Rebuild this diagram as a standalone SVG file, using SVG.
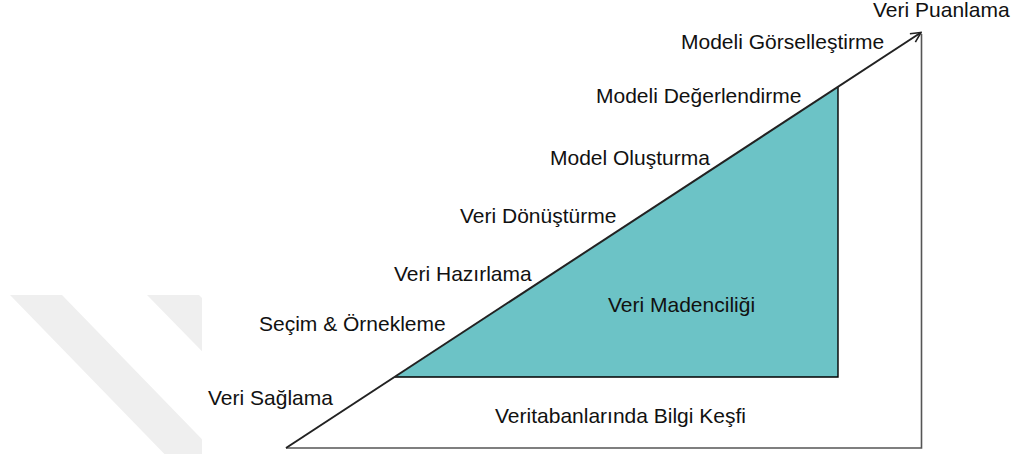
<svg xmlns="http://www.w3.org/2000/svg" width="1014" height="454" viewBox="0 0 1014 454">
  <defs>
    <style>
      .lbl { font-family: "Liberation Sans", Arial, sans-serif; font-size: 21px; fill: #111; }
      .frame { fill: none; stroke: #555; stroke-width: 1.6; }
      .slope { fill: none; stroke: #222; stroke-width: 2; }
    </style>
    <marker id="openHead" viewBox="0 0 12 12" refX="11" refY="6" markerWidth="12" markerHeight="12" markerUnits="userSpaceOnUse" orient="auto">
      <polyline points="1,1 11,6 1,11" fill="none" stroke="#222" stroke-width="1.6"/>
    </marker>
    <clipPath id="markClip">
      <rect x="0" y="295" width="202" height="159"/>
    </clipPath>
  </defs>

  <rect width="1014" height="454" fill="#ffffff"/>

  <!-- faint background mark, lower left -->
  <g id="backmark" clip-path="url(#markClip)" fill="#efefef">
    <polygon points="10,295 62,295 230,468 178,468"/>
    <polygon points="147,295 199,295 360,460 308,460"/>
  </g>

  <!-- data mining wedge -->
  <g id="veri-madenciligi">
    <polygon points="395,377 838,377 838,87" fill="#6cc3c6" stroke="none"/>
    <polyline points="395,377 838,377 838,87" fill="none" stroke="#000" stroke-width="1.4"/>
    <text class="lbl" x="608" y="312">Veri Madenciliği</text>
  </g>

  <!-- outer knowledge-discovery frame -->
  <g id="connectors">
    <polyline class="frame" points="286,448 921.5,448 921.5,34"/>
    <line class="slope" x1="286" y1="448" x2="921" y2="32.5" marker-end="url(#openHead)"/>
  </g>

  <g id="kdd">
    <text class="lbl" x="495" y="423">Veritabanlarında Bilgi Keşfi</text>
  </g>

  <!-- process steps along the slope -->
  <g id="step-saglama"><text class="lbl" x="208" y="405">Veri Sağlama</text></g>
  <g id="step-secim"><text class="lbl" x="259" y="331">Seçim &amp; Örnekleme</text></g>
  <g id="step-hazirlama"><text class="lbl" x="394" y="281">Veri Hazırlama</text></g>
  <g id="step-donusturme"><text class="lbl" x="460" y="223">Veri Dönüştürme</text></g>
  <g id="step-olusturma"><text class="lbl" x="550" y="165">Model Oluşturma</text></g>
  <g id="step-degerlendirme"><text class="lbl" x="596" y="103">Modeli Değerlendirme</text></g>
  <g id="step-gorsellestirme"><text class="lbl" x="681" y="49">Modeli Görselleştirme</text></g>
  <g id="step-puanlama"><text class="lbl" x="873" y="17">Veri Puanlama</text></g>
</svg>
